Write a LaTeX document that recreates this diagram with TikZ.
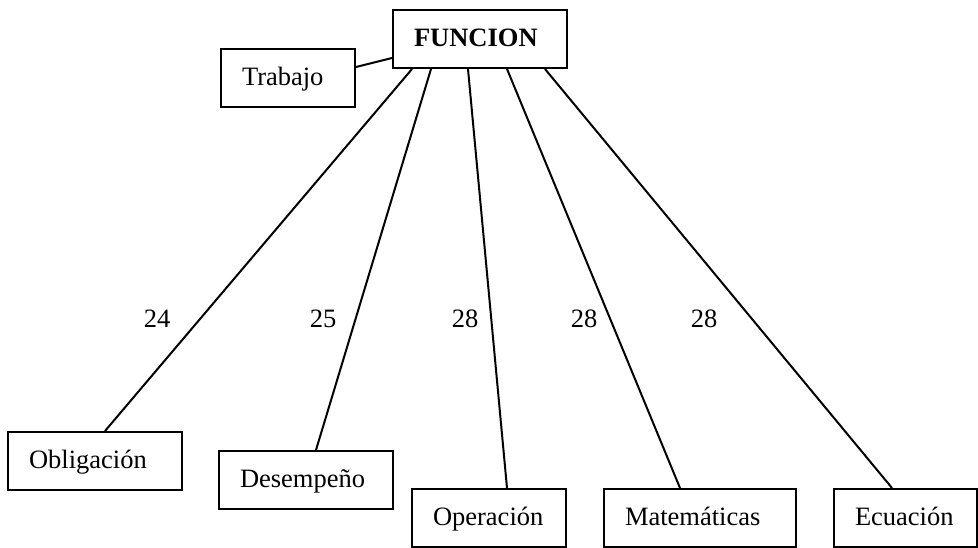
\documentclass[tikz,border=0pt]{standalone}
\usepackage{fontspec}
\setmainfont{Liberation Serif}
\newcommand{\boxfont}{\fontsize{26.5}{30}\selectfont}
\begin{document}
\begin{tikzpicture}[x=1pt,y=-1pt]
\tikzset{
  box/.style={draw, line width=2pt, anchor=north west, inner xsep=21pt,
    inner ysep=0pt, text height=36pt, text depth=22pt, align=left, font=\boxfont},
  link/.style={line width=2pt},
  num/.style={font=\boxfont, anchor=base, inner sep=0pt}
}
\useasboundingbox (0,0) rectangle (978,547);

% boxes
\node[box, text width=132pt, font=\boxfont\bfseries] (fun) at (392,9) {FUNCION};
\node[box, text width=92pt]  (trab) at (220,48)  {Trabajo};
\node[box, text width=132pt] (obl)  at (7,431)   {Obligación};
\node[box, text width=132pt] (des)  at (218,450) {Desempeño};
\node[box, text width=112pt] (ope)  at (411,488) {Operación};
\node[box, text width=150pt] (mat)  at (603,488) {Matemáticas};
\node[box, text width=101pt] (ecu)  at (833,488) {Ecuación};

% connectors
\draw[link] ([yshift=-19pt]trab.north east) -- ([yshift=-49pt]fun.north west);
\draw[link] ([xshift=20pt]fun.south west)  -- ([xshift=98pt]obl.north west);
\draw[link] ([xshift=39pt]fun.south west)  -- ([xshift=98pt]des.north west);
\draw[link] ([xshift=76pt]fun.south west)  -- ([xshift=96pt]ope.north west);
\draw[link] ([xshift=115pt]fun.south west) -- ([xshift=77pt]mat.north west);
\draw[link] ([xshift=153pt]fun.south west) -- ([xshift=59pt]ecu.north west);

% numbers
\node[num] (n1) at (157,327) {24};
\node[num] (n2) at (323,327) {25};
\node[num] (n3) at (465,327) {28};
\node[num] (n4) at (584,327) {28};
\node[num] (n5) at (704,327) {28};
\end{tikzpicture}
\end{document}
